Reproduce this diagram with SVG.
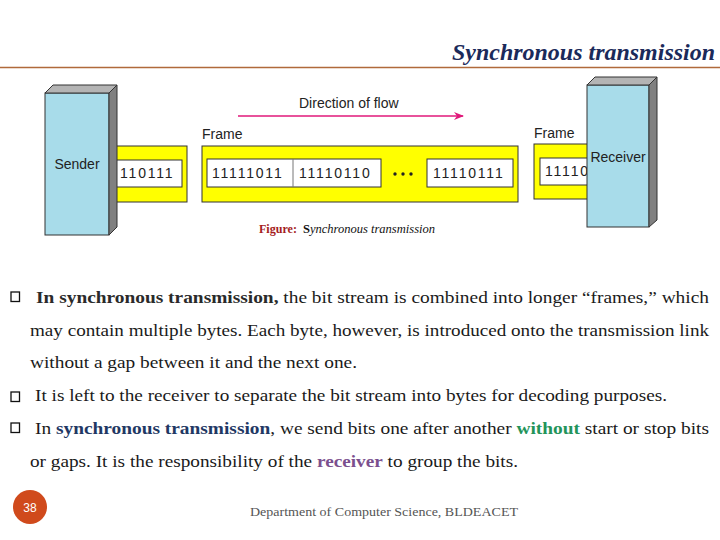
<svg xmlns="http://www.w3.org/2000/svg" width="720" height="540" viewBox="0 0 720 540">
<style>
.sans{font-family:"Liberation Sans","Open Sans",Arial,sans-serif;fill:#222}
.lbl{font-size:14px}
.bits{font-size:14px;letter-spacing:1.8px}
.body{font-family:"Liberation Serif","DejaVu Serif",serif;font-size:17px;fill:#1a1a1a}
.yel{fill:#ffff00;stroke:#333;stroke-width:1}
.wbox{fill:#fff;stroke:#333;stroke-width:1}
.front{fill:#a8dcea;stroke:#333;stroke-width:1}
.top{fill:#b4b4b4;stroke:#333;stroke-width:1}
.side{fill:#808080;stroke:#333;stroke-width:1}
.bul{fill:none;stroke:#111;stroke-width:1.3}
</style>
<defs>
<marker id="ah" markerWidth="10" markerHeight="8" refX="9" refY="4" orient="auto" markerUnits="userSpaceOnUse">
<path d="M0,0 L10,4 L0,8 L3,4 Z" fill="#e0197a"/>
</marker>
</defs>
<rect width="720" height="540" fill="#fff"/>
<g id="title">
<text x="452" y="60" font-family="Liberation Serif,serif" font-size="24" font-weight="bold" font-style="italic" fill="#1b2a5a" textLength="263" lengthAdjust="spacingAndGlyphs">Synchronous transmission</text>
<line x1="0" y1="67.5" x2="720" y2="67.5" stroke="#b06a3b" stroke-width="1.5"/>
</g>
<g id="connectors">
<line x1="238" y1="116" x2="463" y2="116" stroke="#e0197a" stroke-width="1.5" marker-end="url(#ah)"/>
<text class="sans lbl" x="299" y="108">Direction of flow</text>
</g>
<g id="sender-frame">
<rect class="yel" x="112" y="146" width="75" height="56"/>
<rect class="wbox" x="112" y="160" width="70" height="27"/>
<text class="sans bits" x="120" y="178">110111</text>
</g>
<g id="sender">
<rect class="front" x="45" y="93" width="64" height="142"/>
<polygon class="top" points="45,93 53,85 117,85 109,93"/>
<polygon class="side" points="109,93 117,85 117,227 109,235"/>
<text class="sans lbl" x="77" y="169" text-anchor="middle">Sender</text>
</g>
<g id="middle-frame">
<text class="sans lbl" x="202" y="139">Frame</text>
<rect class="yel" x="202" y="146" width="316" height="56"/>
<rect class="wbox" x="207" y="159" width="174" height="28"/>
<line x1="293" y1="159" x2="293" y2="187" stroke="#777" stroke-width="1"/>
<text class="sans bits" x="212" y="178">11111011</text>
<text class="sans bits" x="299" y="178">11110110</text>
<circle cx="395" cy="174" r="1.7" fill="#222"/>
<circle cx="403" cy="174" r="1.7" fill="#222"/>
<circle cx="411" cy="174" r="1.7" fill="#222"/>
<rect class="wbox" x="427" y="159" width="86" height="28"/>
<text class="sans bits" x="433" y="178">11110111</text>
</g>
<g id="receiver-frame">
<text class="sans lbl" x="534" y="138">Frame</text>
<rect class="yel" x="534" y="144" width="60" height="55"/>
<rect class="wbox" x="540" y="158" width="54" height="27"/>
<text class="sans bits" x="545" y="176">11110</text>
</g>
<g id="receiver">
<rect class="front" x="587" y="85" width="62" height="142"/>
<polygon class="top" points="587,85 595,77 657,77 649,85"/>
<polygon class="side" points="649,85 657,77 657,220 649,227"/>
<text class="sans lbl" x="618" y="162" text-anchor="middle">Receiver</text>
</g>
<g id="caption">
<text x="259" y="233" font-family="Liberation Serif,serif" font-size="12" font-weight="bold" fill="#a51d1d" textLength="38" lengthAdjust="spacingAndGlyphs">Figure:</text>
<text x="303" y="233" font-family="Liberation Serif,serif" font-size="12" fill="#111" textLength="132" lengthAdjust="spacingAndGlyphs"><tspan font-weight="bold">S</tspan><tspan font-style="italic">ynchronous transmission</tspan></text>
</g>
<g id="body">
<rect class="bul" x="11" y="292" width="8.5" height="9.5"/>
<text class="body" x="36" y="303" textLength="673" lengthAdjust="spacingAndGlyphs"><tspan font-weight="bold" fill="#2a2a2a">In synchronous transmission,</tspan> the bit stream is combined into longer “frames,” which</text>
<text class="body" x="30" y="336" textLength="679" lengthAdjust="spacingAndGlyphs">may contain multiple bytes. Each byte, however, is introduced onto the transmission link</text>
<text class="body" x="30" y="368" textLength="327" lengthAdjust="spacingAndGlyphs">without a gap between it and the next one.</text>
<rect class="bul" x="11" y="392" width="8.5" height="9.5"/>
<text class="body" x="35" y="401" textLength="632" lengthAdjust="spacingAndGlyphs">It is left to the receiver to separate the bit stream into bytes for decoding purposes.</text>
<rect class="bul" x="11" y="423" width="8.5" height="9.5"/>
<text class="body" x="35" y="434" textLength="674" lengthAdjust="spacingAndGlyphs">In <tspan font-weight="bold" fill="#1f3864">synchronous transmission</tspan>, we send bits one after another <tspan font-weight="bold" fill="#23945a">without</tspan> start or stop bits</text>
<text class="body" x="30" y="467" textLength="488" lengthAdjust="spacingAndGlyphs">or gaps. It is the responsibility of the <tspan font-weight="bold" fill="#7b4f8e">receiver</tspan> to group the bits.</text>
</g>
<g id="footer">
<circle cx="30" cy="507" r="17" fill="#d04a1c"/>
<text x="30" y="511.5" text-anchor="middle" font-family="Liberation Sans,sans-serif" font-size="12" fill="#fff">38</text>
<text x="250" y="516" font-family="Liberation Serif,serif" font-size="13.5" fill="#555" textLength="268" lengthAdjust="spacingAndGlyphs">Department of Computer Science, BLDEACET</text>
</g>
</svg>
